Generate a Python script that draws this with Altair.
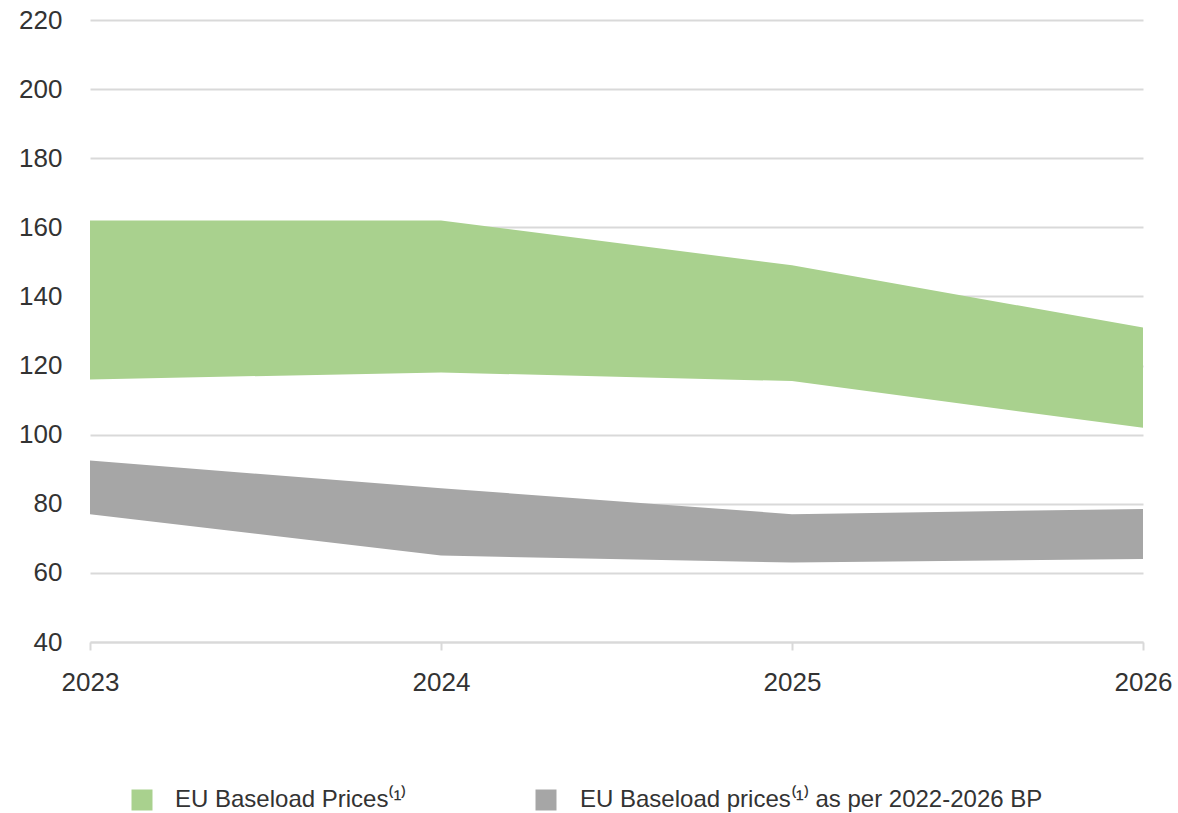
import altair as alt
import pandas as pd

# Years on the x axis
years = [2023, 2024, 2025, 2026]

# Current EU baseload price range (€/MWh)
eu_low = [116, 118, 115.5, 102]
eu_high = [162, 162, 149, 131]

# Range as per the 2022-2026 business plan
bp_low = [77, 65, 63, 64]
bp_high = [92.5, 84.5, 77, 78.5]

legend_labels = ["EU Baseload Prices⁽¹⁾", "EU Baseload prices⁽¹⁾ as per 2022-2026 BP"]
legend_colors = ["#a9d18e", "#a6a6a6"]

FONT = "Liberation Sans"
TEXT = "#333333"
GRID = "#d9d9d9"

eu = pd.DataFrame({"year": years, "low": eu_low, "high": eu_high})
bp = pd.DataFrame({"year": years, "low": bp_low, "high": bp_high})

x_enc = alt.X(
    "year:Q",
    scale=alt.Scale(domain=[2023, 2026], nice=False, zero=False),
    axis=alt.Axis(
        values=years, format="d", title=None, grid=False,
        domainColor=GRID, domainWidth=2, tickColor=GRID, tickWidth=2, tickSize=8,
        labelFont=FONT, labelFontSize=26, labelColor=TEXT, labelPadding=19,
        labelFlush=False,
    ),
)
y_scale = alt.Scale(domain=[40, 220], nice=False, zero=False)
y_axis = alt.Axis(
    values=list(range(40, 221, 20)), title=None, domain=False, ticks=False,
    gridColor=GRID, gridWidth=2, labelFont=FONT, labelFontSize=26,
    labelColor=TEXT, labelPadding=28,
)

grid = alt.Chart(eu).mark_area(opacity=0).encode(
    x=x_enc, y=alt.Y("low:Q", scale=y_scale, axis=y_axis)
)

eu_area = alt.Chart(eu).mark_area(color=legend_colors[0], opacity=1).encode(
    x="year:Q", y=alt.Y("low:Q", scale=y_scale), y2="high:Q"
)
bp_area = alt.Chart(bp).mark_area(color=legend_colors[1], opacity=1).encode(
    x="year:Q", y=alt.Y("low:Q", scale=y_scale), y2="high:Q"
)

# Custom legend below the plot
leg = pd.DataFrame({"label": legend_labels, "color": legend_colors,
                    "sx": [52, 456], "tx": [85, 490]})
leg_sq = alt.Chart(leg).mark_square(size=441, opacity=1).encode(
    x=alt.X("sx:Q", scale=None), y=alt.value(780),
    color=alt.Color("color:N", scale=None),
)
leg_tx = alt.Chart(leg).mark_text(
    align="left", baseline="middle", font=FONT, fontSize=24, color=TEXT
).encode(x=alt.X("tx:Q", scale=None), y=alt.value(780), text="label:N")

chart = alt.layer(grid, bp_area, eu_area, leg_sq, leg_tx).properties(
    width=1053, height=622,
    background="white",
    autosize=alt.AutoSizeParams(type="none"),
    padding={"left": 90, "top": 20, "right": 35, "bottom": 171},
).configure_view(stroke=None)

chart.save("out.html", embed_options={"renderer": "svg", "actions": False})
